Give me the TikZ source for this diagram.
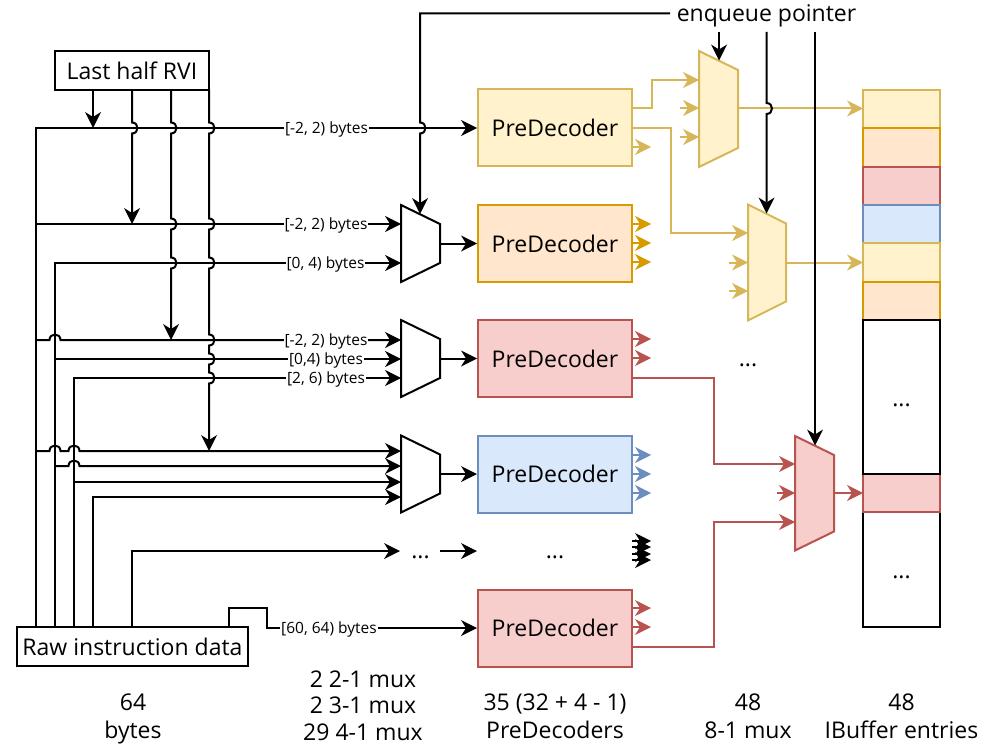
\documentclass[tikz,border=0pt]{standalone}
\usepackage{fontspec}
\setmainfont{Open Sans}
\usetikzlibrary{arrows.meta}
\definecolor{yf}{HTML}{FFF2CC}\definecolor{ys}{HTML}{D6B656}
\definecolor{of}{HTML}{FFE6CC}\definecolor{os}{HTML}{D79B00}
\definecolor{rf}{HTML}{F8CECC}\definecolor{rs}{HTML}{B85450}
\definecolor{bf}{HTML}{DAE8FC}\definecolor{bs}{HTML}{6C8EBF}
\tikzset{myhead/.tip={Stealth[length=16pt,width=16pt,inset=5pt,line width=0pt]}}
\begin{document}
\begin{tikzpicture}[x=1pt,y=-1pt,
  ln/.style={line width=2pt},
  arr/.style={ln,-myhead},
  lbl/.style={fill=white,inner sep=1pt,font=\fontsize{15.5}{18}\selectfont},
  big/.style={font=\fontsize{23}{27}\selectfont},
  txt/.style={big,inner sep=0pt,anchor=base},
  pdbox/.style={ln,draw,minimum width=154pt,minimum height=77pt,inner sep=0pt,big},
  vh/.style={to path={.. controls +(7.3,0) and +(7.3,0) .. (\tikztotarget)}},
  hh/.style={to path={.. controls +(0,-7.3) and +(0,-7.3) .. (\tikztotarget)}},
  mux/.style={ln,draw=black,fill=white}
]
\useasboundingbox (0,0) rectangle (994,749);

% ---------- boxes
\node[ln,draw,big,minimum width=154pt,minimum height=39pt,inner sep=0pt] (lhr) at (132,70.5) {Last half RVI};
\node[ln,draw,big,minimum width=231pt,minimum height=39pt,inner sep=0pt] (raw) at (132.5,646.5) {Raw instruction data};
\node[pdbox,fill=yf,draw=ys] (pd1) at (555,128) {PreDecoder};
\node[pdbox,fill=of,draw=os] (pd2) at (555,243.5) {PreDecoder};
\node[pdbox,fill=rf,draw=rs] (pd3) at (555,358.5) {PreDecoder};
\node[pdbox,fill=bf,draw=bs] (pd4) at (555,474) {PreDecoder};
\node[pdbox,fill=rf,draw=rs] (pd6) at (555,628) {PreDecoder};
\node[txt] (enq) at (766.5,22) {enqueue pointer};

% ---------- muxes
\draw[mux] (401,205) -- (440,224) -- (440,263) -- (401,282) -- cycle;
\draw[mux] (401,320) -- (440,339) -- (440,378) -- (401,397) -- cycle;
\draw[mux] (401,435.5) -- (440,454.5) -- (440,493.5) -- (401,512.5) -- cycle;
\draw[ln,fill=yf,draw=ys] (699,51) -- (738,70) -- (738,148) -- (699,167) -- cycle;
\draw[ln,fill=yf,draw=ys] (748,204.5) -- (786,223.5) -- (786,301.5) -- (748,320.5) -- cycle;
\draw[ln,fill=rf,draw=rs] (795,436) -- (834,455) -- (834,531.5) -- (795,550.5) -- cycle;

% ---------- IBuffer
\draw[ln,fill=yf,draw=ys] (863,90) rectangle (940,128.3);
\draw[ln,fill=of,draw=os] (863,128.3) rectangle (940,166.7);
\draw[ln,fill=rf,draw=rs] (863,166.7) rectangle (940,205);
\draw[ln,fill=bf,draw=bs] (863,205) rectangle (940,243.3);
\draw[ln,fill=yf,draw=ys] (863,243.3) rectangle (940,281.7);
\draw[ln,fill=of,draw=os] (863,281.7) rectangle (940,320);
\draw[ln,fill=white] (863,512.3) rectangle (940,627);
\draw[ln,fill=rf,draw=rs] (863,474.3) rectangle (940,512.3);
\draw[ln,fill=white] (863,320) rectangle (940,474.3);
\node[txt] (d1) at (901.5,406) {...};
\node[txt] (d2) at (901.5,578) {...};

% ---------- raw data buses
\draw[arr] (36,627) -- (36,128) -- (pd1.west);
\draw[arr] (36,224) -- (401,224);
\draw[arr] (55,627) -- (55,263) -- (401,263);
\draw[arr] (36,340) -- (49.5,340) to[hh] (60.5,340) -- (401,340);
\draw[arr] (55,359) -- (401,359);
\draw[arr] (74,627) -- (74,378) -- (401,378);
\draw[arr] (36,451) -- (49.5,451) to[hh] (60.5,451) -- (68.5,451) to[hh] (79.5,451) -- (401,451);
\draw[arr] (55,466) -- (68.5,466) to[hh] (79.5,466) -- (401,466);
\draw[arr] (74,482) -- (401,482);
\draw[arr] (93,627) -- (93,497) -- (401,497);
\draw[arr] (132,627) -- (132,551) -- (400,551);
\draw[arr] (229,627) -- (229,608) -- (267,608) -- (267,628) -- (pd6.west);

% ---------- last half RVI
\draw[arr] (93,90) -- (93,128);
\draw[arr] (132,90) -- (132,122.5) to[vh] (132,133.5) -- (132,224);
\draw[arr] (171,90) -- (171,122.5) to[vh] (171,133.5) -- (171,218.5) to[vh] (171,229.5)
  -- (171,257.5) to[vh] (171,268.5) -- (171,340);
\draw[arr] (209,90) -- (209,122.5) to[vh] (209,133.5) -- (209,218.5) to[vh] (209,229.5)
  -- (209,257.5) to[vh] (209,268.5) -- (209,334.5) to[vh] (209,345.5)
  -- (209,353.5) to[vh] (209,364.5) -- (209,372.5) to[vh] (209,383.5) -- (209,451);

% ---------- mux outputs
\draw[arr] (440,243.5) -- (pd2.west);
\draw[arr] (440,358.5) -- (pd3.west);
\draw[arr] (440,474) -- (pd4.west);
\node[txt] (d3) at (420.5,558) {...};
\draw[arr] (440,551) -- (477,551);
\node[txt] (d4) at (555,558) {...};
\foreach \yy in {541,547,554,560} \draw[arr] (632,\yy) -- (651,\yy);

% ---------- yellow
\draw[arr,draw=ys] (632,108) -- (652,108) -- (652,80) -- (699,80);
\draw[arr,draw=ys] (632,128) -- (671,128) -- (671,233) -- (748,233);
\draw[arr,draw=ys] (632,147) -- (651,147);
\draw[arr,draw=ys] (680,108) -- (699,108);
\draw[arr,draw=ys] (680,137) -- (699,137);
\draw[arr,draw=ys] (729,262.5) -- (748,262.5);
\draw[arr,draw=ys] (729,291) -- (748,291);
\draw[arr,draw=ys] (738,108.5) -- (863,108.5);
\draw[arr,draw=ys] (786,262.5) -- (863,262.5);

% ---------- orange / red / blue
\foreach \yy in {224,243,262} \draw[arr,draw=os] (632,\yy) -- (651,\yy);
\foreach \yy in {339,358} \draw[arr,draw=rs] (632,\yy) -- (651,\yy);
\foreach \yy in {455,474,493} \draw[arr,draw=bs] (632,\yy) -- (651,\yy);
\foreach \yy in {608,627} \draw[arr,draw=rs] (632,\yy) -- (651,\yy);
\draw[arr,draw=rs] (632,378) -- (714,378) -- (714,464) -- (795,464);
\draw[arr,draw=rs] (632,647) -- (714,647) -- (714,522) -- (795,522);
\draw[arr,draw=rs] (777,493) -- (795,493);
\draw[arr,draw=rs] (834,493) -- (863,493);
\node[txt] (d5) at (748,366.5) {...};

% ---------- enqueue pointer
\draw[arr] (670,13.5) -- (420,13.5) -- (420,122.5) to[vh] (420,133.5) -- (420,214);
\draw[arr] (719,32) -- (719,60.5);
\draw[arr] (766.5,32) -- (766.5,103) to[vh] (766.5,114) -- (766.5,213.5);
\draw[arr] (815,32) -- (815,445.5);

% ---------- labels
\node[lbl] (l1) at (326.5,129) {[-2, 2) bytes};
\node[lbl] (l2) at (326,225) {[-2, 2) bytes};
\node[lbl] (l3) at (325.5,264) {[0, 4) bytes};
\node[lbl] (l4) at (326,341) {[-2, 2) bytes};
\node[lbl] (l5) at (326,360) {[0,4) bytes};
\node[lbl] (l6) at (326,379) {[2, 6) bytes};
\node[lbl] (l7) at (329,629) {[60, 64) bytes};

% ---------- bottom captions
\node[txt] (c1a) at (133,710.5) {64};
\node[txt] (c1b) at (133,738) {bytes};
\node[txt] (c2a) at (363,687) {2 2-1 mux};
\node[txt] (c2b) at (363,713.5) {2 3-1 mux};
\node[txt] (c2c) at (363,740) {29 4-1 mux};
\node[txt] (c3a) at (555,710.5) {35 (32 + 4 - 1)};
\node[txt] (c3b) at (555,738) {PreDecoders};
\node[txt] (c4a) at (748,710.5) {48};
\node[txt] (c4b) at (748,738) {8-1 mux};
\node[txt] (c5a) at (901.5,710.5) {48};
\node[txt] (c5b) at (901.5,738) {IBuffer entries};
\end{tikzpicture}
\end{document}
